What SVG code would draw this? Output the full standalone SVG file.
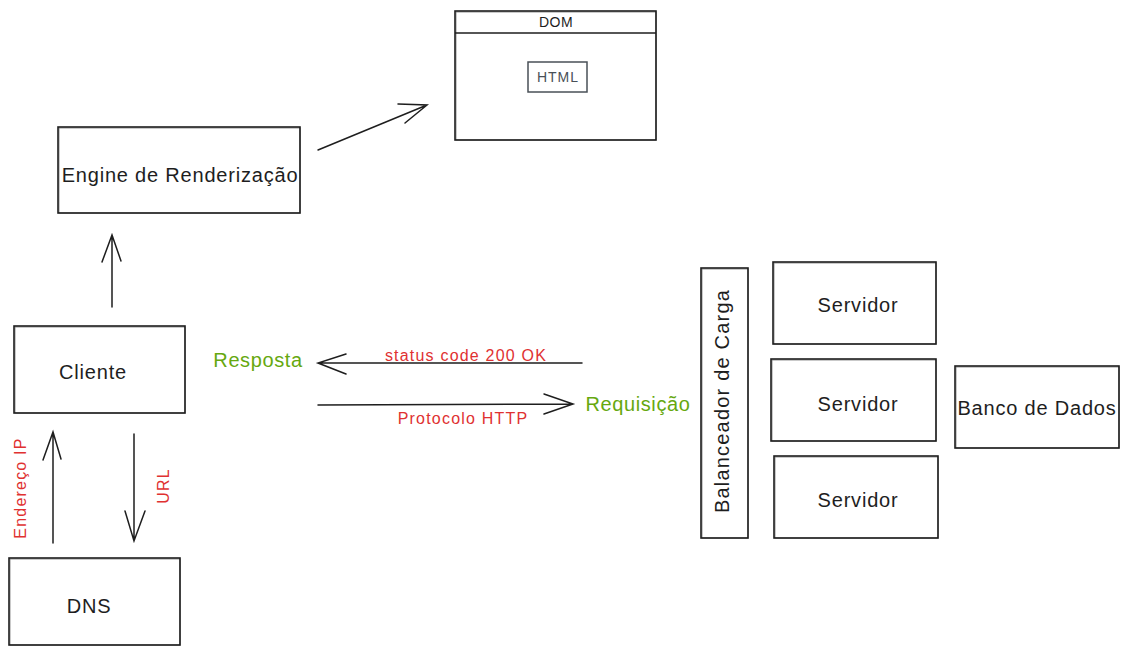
<svg xmlns="http://www.w3.org/2000/svg" width="1128" height="654" viewBox="0 0 1128 654">
<style>
.box{fill:none;stroke:#1e1e1e;stroke-width:1.6}
.box2{fill:none;stroke:#1e1e1e;stroke-width:0.8;opacity:0.6}
.t{font-family:"Liberation Sans",Arial,sans-serif;font-size:20px;letter-spacing:0.8px;fill:#1e1e1e;text-anchor:middle;dominant-baseline:central}
.red{font-family:"Liberation Sans",Arial,sans-serif;font-size:16px;letter-spacing:1.2px;fill:#e03131;text-anchor:middle;dominant-baseline:central}
.green{font-family:"Liberation Sans",Arial,sans-serif;font-size:20px;letter-spacing:0.6px;fill:#66a80f;text-anchor:middle;dominant-baseline:central}
.ln{fill:none;stroke:#1e1e1e;stroke-width:1.5;stroke-linecap:round}
</style>
<rect width="1128" height="654" fill="#ffffff"/>
<g id="dom">
<rect class="box" x="455" y="11" width="201" height="129"/>
<rect class="box2" x="456" y="12" width="200" height="128"/>
<line class="box" x1="455" y1="33" x2="656" y2="33"/>
<text class="t" x="556" y="22" style="font-size:14px;letter-spacing:0.5px">DOM</text>
</g>
<g id="html">
<rect fill="none" stroke="#495057" stroke-width="1.5" x="528" y="62" width="59" height="30"/>
<text class="t" x="558" y="77" style="fill:#495057;font-size:14px;letter-spacing:1px">HTML</text>
</g>
<g id="engine">
<rect class="box" x="58" y="127" width="242" height="86"/>
<rect class="box2" x="59" y="128" width="241" height="85"/>
<text class="t" x="180" y="175">Engine de Renderização</text>
</g>
<g id="cliente">
<rect class="box" x="14" y="326" width="171" height="87"/>
<rect class="box2" x="15" y="327" width="170" height="86"/>
<text class="t" x="93" y="372">Cliente</text>
</g>
<g id="dns">
<rect class="box" x="9" y="558" width="171" height="87"/>
<rect class="box2" x="10" y="559" width="170" height="86"/>
<text class="t" x="89" y="606">DNS</text>
</g>
<g id="balanceador">
<rect class="box" x="701" y="268" width="47" height="270"/>
<rect class="box2" x="702" y="269" width="46" height="269"/>
<text class="t" x="0" y="0" transform="translate(722,401) rotate(-90)" style="letter-spacing:1.2px">Balanceador de Carga</text>
</g>
<g id="servidor1">
<rect class="box" x="773" y="262" width="163" height="82"/>
<rect class="box2" x="774" y="263" width="162" height="81"/>
<text class="t" x="858" y="305">Servidor</text>
</g>
<g id="servidor2">
<rect class="box" x="771" y="359" width="165" height="82"/>
<rect class="box2" x="772" y="360" width="164" height="81"/>
<text class="t" x="858" y="404">Servidor</text>
</g>
<g id="servidor3">
<rect class="box" x="774" y="456" width="164" height="82"/>
<rect class="box2" x="775" y="457" width="163" height="81"/>
<text class="t" x="858" y="500">Servidor</text>
</g>
<g id="banco">
<rect class="box" x="955" y="366" width="164" height="82"/>
<rect class="box2" x="956" y="367" width="163" height="81"/>
<text class="t" x="1037" y="408">Banco de Dados</text>
</g>
<g id="labels">
<text class="green" x="258" y="360">Resposta</text>
<text class="green" x="638" y="404">Requisição</text>
<text class="red" x="466" y="355">status code 200 OK</text>
<text class="red" x="463" y="418">Protocolo HTTP</text>
<text class="red" x="0" y="0" transform="translate(20,488) rotate(-90)">Endereço IP</text>
<text class="red" x="0" y="0" transform="translate(163,486) rotate(-90)">URL</text>
</g>
<g id="connectors">
<path class="ln" d="M318,150 L427,105 M398,104 L427,105 L405,123"/>
<path class="ln" d="M112,307 L112,235 M102,262 L112,235 L121,261"/>
<path class="ln" d="M53,543 L53,432 M43,460 L53,432 L61,459"/>
<path class="ln" d="M134,434 L134,541 M125,511 L134,541 L145,511"/>
<path class="ln" d="M582,363 L318,363 M346,354 L318,363 L346,374"/>
<path class="ln" d="M318,405 L573,404 M544,394 L573,404 L544,414"/>
</g>
</svg>
